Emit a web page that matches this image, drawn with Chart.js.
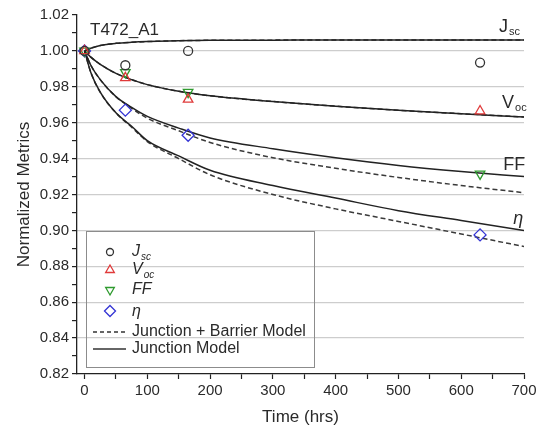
<!DOCTYPE html>
<html>
<head>
<meta charset="utf-8">
<script src="https://cdn.jsdelivr.net/npm/chart.js@4"></script>
<style>
  html, body { margin:0; padding:0; background:#fff; }
  #wrap { width:543px; height:431px; }
</style>
</head>
<body>
<div id="wrap"><canvas id="c" width="543" height="431"></canvas></div>
<script>
// --- Data ---
const hours = [0, 10, 25, 50, 75, 100, 150, 200, 300, 400, 500, 600, 700];
const jscModel      = [1.000, 1.0015, 1.003, 1.0042, 1.0048, 1.0052, 1.0057, 1.0059, 1.0060, 1.0061, 1.0061, 1.0061, 1.0061];
const vocModel      = [1.000, 0.9965, 0.9925, 0.9875, 0.9840, 0.9812, 0.9775, 0.9750, 0.9718, 0.9692, 0.9669, 0.9650, 0.9632];
const ffJunction    = [1.000, 0.992, 0.984, 0.9745, 0.9685, 0.9635, 0.957, 0.9515, 0.9455, 0.9405, 0.9362, 0.9328, 0.930];
const ffBarrier     = [1.000, 0.992, 0.984, 0.9745, 0.968, 0.9625, 0.9555, 0.949, 0.9405, 0.9346, 0.9295, 0.925, 0.921];
const etaJunction   = [1.000, 0.988, 0.977, 0.9655, 0.958, 0.950, 0.9415, 0.9335, 0.925, 0.918, 0.911, 0.9055, 0.900];
const etaBarrier    = [1.000, 0.988, 0.977, 0.9655, 0.9575, 0.9495, 0.940, 0.931, 0.920, 0.912, 0.905, 0.898, 0.891];

const measHours = [0, 65, 165, 630];
const jscMeas = [1.000, 0.992, 1.000, 0.9935];
const vocMeas = [1.000, 0.985, 0.973, 0.9665];
const ffMeas  = [1.000, 0.988, 0.977, 0.9315];
const etaMeas = [1.000, 0.967, 0.953, 0.8975];

const yMajor = [0.82, 0.84, 0.86, 0.88, 0.90, 0.92, 0.94, 0.96, 0.98, 1.00, 1.02];
const xMajor = [0, 100, 200, 300, 400, 500, 600, 700];

const FONT = '"Liberation Sans", Arial, sans-serif';
const TXT = '#2a2a2a';
const C_JSC = '#333333', C_VOC = '#e03a3a', C_FF = '#2e9a2e', C_ETA = '#3434d4';

const pts = (xs, ys) => xs.map((x, i) => ({ x, y: ys[i] }));
const mid = arr => arr.slice(0, -1).map((v, i) => (v + arr[i + 1]) / 2);
const isMajor = (v, arr) => arr.some(m => Math.abs(m - v) < 1e-6);

function modelLine(ys, dashed){
  return { type:'line', data: pts(hours, ys), borderColor: dashed ? '#3a3a3a' : '#222',
    borderWidth: 1.5, borderDash: dashed ? [5, 3] : [], pointRadius: 0,
    cubicInterpolationMode: 'monotone', order: dashed ? 3 : 2 };
}
function markers(ys, color, style, r, rot){
  return { type:'scatter', data: pts(measHours, ys), borderColor: color, backgroundColor: 'rgba(0,0,0,0)',
    pointStyle: style, pointRadius: r, pointRotation: rot || 0, pointBorderWidth: 1.3, order: 0 };
}

// text with a subscript
function subText(ctx, x, y, main, sub, size, italic){
  const st = italic ? 'italic ' : '';
  ctx.font = st + size + 'px ' + FONT;
  ctx.fillText(main, x, y);
  const w = ctx.measureText(main).width;
  ctx.font = st + Math.round(size * 0.6) + 'px ' + FONT;
  ctx.fillText(sub, x + w + 1, y + size * 0.3);
}

const overlay = {
  id: 'overlay',
  afterDraw(chart){
    const { ctx, chartArea: ca, scales } = chart;
    const X = v => scales.x.getPixelForValue(v), Y = v => scales.y.getPixelForValue(v);
    ctx.save();
    ctx.fillStyle = TXT;
    ctx.textBaseline = 'middle';
    ctx.textAlign = 'left';
    // title
    ctx.font = '17px ' + FONT;
    ctx.fillText('T472_A1', ca.left + 13, Y(1.0115));
    // curve labels
    subText(ctx, X(660), Y(1.0135), 'J', 'sc', 18, false);
    subText(ctx, X(665), Y(0.9712), 'V', 'oc', 18, false);
    ctx.font = '18px ' + FONT;
    ctx.fillText('FF', X(667), Y(0.9362));
    ctx.font = 'italic 18px ' + FONT;
    ctx.fillText('\u03b7', X(683), Y(0.9065));

    // legend box
    const bx = ca.left + 9, by = ca.bottom - 143, bw = 228, bh = 136;
    ctx.strokeStyle = '#8c8c8c';
    ctx.lineWidth = 1;
    ctx.strokeRect(Math.round(bx) + 0.5, Math.round(by) + 0.5, bw, bh);
    const sx = bx + 24, tx = bx + 46;
    const rows = [by + 21, by + 39, by + 59, by + 80, by + 101, by + 118];
    const syms = [
      { c: C_JSC, s: 'circle', r: 3.5, rot: 0 },
      { c: C_VOC, s: 'triangle', r: 5, rot: 0 },
      { c: C_FF, s: 'triangle', r: 5, rot: 180 },
      { c: C_ETA, s: 'rectRot', r: 5.5, rot: 0 }
    ];
    syms.forEach((m, i) => {
      ctx.strokeStyle = m.c; ctx.lineWidth = 1.3; ctx.fillStyle = 'rgba(0,0,0,0)';
      Chart.helpers.drawPoint(ctx, { pointStyle: m.s, radius: m.r, rotation: m.rot, borderWidth: 1.3 }, sx, rows[i]);
    });
    ctx.fillStyle = TXT;
    subText(ctx, tx, rows[0], 'J', 'sc', 16, true);
    subText(ctx, tx, rows[1], 'V', 'oc', 16, true);
    ctx.font = 'italic 16px ' + FONT; ctx.fillText('FF', tx, rows[2]);
    ctx.fillText('\u03b7', tx, rows[3] + 1);
    ctx.font = '16px ' + FONT;
    ctx.fillText('Junction + Barrier Model', tx, rows[4]);
    ctx.fillText('Junction Model', tx, rows[5]);
    ctx.strokeStyle = '#333'; ctx.lineWidth = 1.3;
    ctx.setLineDash([4, 3]);
    ctx.beginPath(); ctx.moveTo(bx + 7, rows[4]); ctx.lineTo(bx + 40, rows[4]); ctx.stroke();
    ctx.setLineDash([]);
    ctx.beginPath(); ctx.moveTo(bx + 7, rows[5]); ctx.lineTo(bx + 40, rows[5]); ctx.stroke();
    ctx.restore();
  }
};

new Chart(document.getElementById('c'), {
  data: {
    datasets: [
      modelLine(jscModel, true), modelLine(jscModel, false),
      modelLine(vocModel, true), modelLine(vocModel, false),
      modelLine(ffBarrier, true), modelLine(ffJunction, false),
      modelLine(etaBarrier, true), modelLine(etaJunction, false),
      markers(jscMeas, C_JSC, 'circle', 4.5),
      markers(vocMeas, C_VOC, 'triangle', 5.5),
      markers(ffMeas, C_FF, 'triangle', 5.5, 180),
      markers(etaMeas, C_ETA, 'rectRot', 6)
    ]
  },
  options: {
    responsive: false,
    animation: false,
    layout: { padding: { top: 15, right: 19, left: 0, bottom: 0 } },
    plugins: { legend: { display: false }, tooltip: { enabled: false } },
    scales: {
      x: {
        type: 'linear', min: -12, max: 700,
        afterFit: s => { s.height = 57; },
        afterBuildTicks: s => { s.ticks = xMajor.concat(mid(xMajor)).sort((a, b) => a - b).map(v => ({ value: v })); },
        ticks: { autoSkip: false, maxRotation: 0, padding: 3, color: TXT, font: { family: FONT, size: 15 },
          callback: v => isMajor(v, xMajor) ? String(v) : '' },
        grid: { drawOnChartArea: false, tickLength: 5, tickColor: '#222', tickWidth: 1.2 },
        border: { color: '#222', width: 1.3 },
        title: { display: true, text: 'Time (hrs)', color: TXT, font: { family: FONT, size: 17 }, padding: { top: 0, bottom: 3 } }
      },
      y: {
        type: 'linear', min: 0.82, max: 1.02,
        afterFit: s => { s.width = 77; },
        afterBuildTicks: s => { s.ticks = yMajor.concat(mid(yMajor)).sort((a, b) => a - b).map(v => ({ value: v })); },
        ticks: { autoSkip: false, padding: 3, color: TXT, font: { family: FONT, size: 15 },
          callback: v => isMajor(v, yMajor) ? v.toFixed(2) : '' },
        grid: {
          tickLength: 5, tickColor: '#222', tickWidth: 1.2, lineWidth: 1.2,
          color: c => (isMajor(c.tick.value, yMajor) && c.tick.value > 0.83 && c.tick.value < 1.01) ? '#cdcdcd' : 'rgba(0,0,0,0)'
        },
        border: { color: '#222', width: 1.3 },
        title: { display: true, text: 'Normalized Metrics', color: TXT, font: { family: FONT, size: 17 }, padding: { top: 14, bottom: 0 } }
      }
    }
  },
  plugins: [overlay]
});
</script>
</body>
</html>
